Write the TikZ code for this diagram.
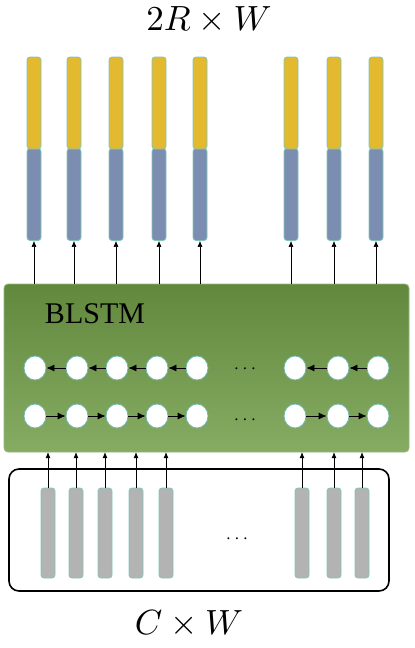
\documentclass[tikz,border=0pt]{standalone}
\usepackage{fontspec}
\newfontfamily\timesfont{Liberation Serif}
\usetikzlibrary{arrows.meta,shapes.geometric,calc}
\definecolor{ybar}{RGB}{227,185,48}
\definecolor{bbar}{RGB}{123,141,176}
\definecolor{gbar}{RGB}{179,179,179}
\definecolor{barline}{RGB}{130,195,185}
\definecolor{gtop}{RGB}{98,136,62}
\definecolor{gbot}{RGB}{134,172,99}
\definecolor{gedge}{RGB}{150,180,120}
\definecolor{cline}{RGB}{110,185,175}
\begin{document}
\begin{tikzpicture}[x=1pt,y=-1pt,
  barbox/.style={draw=barline,line width=0.8pt,rounded corners=3pt,minimum width=14pt,inner sep=0pt},
  cell/.style={ellipse,draw=cline,line width=0.8pt,fill=white,minimum width=22pt,minimum height=24pt,inner sep=0pt},
  arr/.style={-{Latex[length=6pt,width=5pt]},line width=0.6pt},
  arrb/.style={-{Latex[length=8pt,width=7pt]},line width=0.8pt},
  bigmath/.style={scale=3.5,inner sep=0pt},
  dotsl/.style={scale=1.9,inner sep=0pt}]
\useasboundingbox (0,0) rectangle (415,648);
% titles
\node[bigmath] (top) at (209,20) {$2R\times W$};
\node[bigmath] (bot) at (189,624) {$C\times W$};
% top bars
\foreach \i/\x in {1/34,2/74,3/116,4/159,5/200,6/291,7/334,8/376}{
  \node[barbox,fill=bbar,minimum height=92pt] (b\i) at (\x,194.5) {};
  \node[barbox,fill=ybar,minimum height=92pt] (y\i) at (\x,103) {};
}
% BLSTM box
\shade[top color=gtop,bottom color=gbot,draw=gedge,line width=0.8pt,rounded corners=4pt] (4,284) rectangle (409,452);
\node[minimum width=405pt,minimum height=168pt,inner sep=0pt] (blstm) at (206.5,368) {};
\node (lbl) at (95,314) {\timesfont\fontsize{30}{34}\selectfont BLSTM};
% arrows up to top bars
\foreach \i in {1,...,8}{
  \draw[arr] (blstm.north -| b\i.south) -- (b\i.south);
}
% cells
\foreach \i/\x in {1/35,2/77,3/117,4/157,5/197,6/295,7/338,8/378}{
  \node[cell] (u\i) at (\x,368) {};
  \node[cell] (d\i) at (\x,416) {};
}
\foreach \a/\b in {1/2,2/3,3/4,4/5,6/7,7/8}{
  \draw[arrb] (u\b) -- (u\a);
  \draw[arrb] (d\a) -- (d\b);
}
\node[dotsl] (dotsu) at (245,369) {$\cdots$};
\node[dotsl] (dotsd) at (245,420) {$\cdots$};
% input box
\draw[line width=1.6pt,rounded corners=10pt] (9,469) rectangle (389,591);
\node[minimum width=380pt,minimum height=122pt,inner sep=0pt] (inp) at (199,530) {};
\foreach \i/\x in {1/48,2/76,3/105,4/136,5/166,6/302,7/334,8/362}{
  \node[barbox,fill=gbar,minimum height=90pt] (g\i) at (\x,533) {};
  \draw[arr] (g\i.north) -- (g\i.north |- blstm.south);
}
\node[dotsl] (dotsi) at (237,539) {$\cdots$};
\end{tikzpicture}
\end{document}
